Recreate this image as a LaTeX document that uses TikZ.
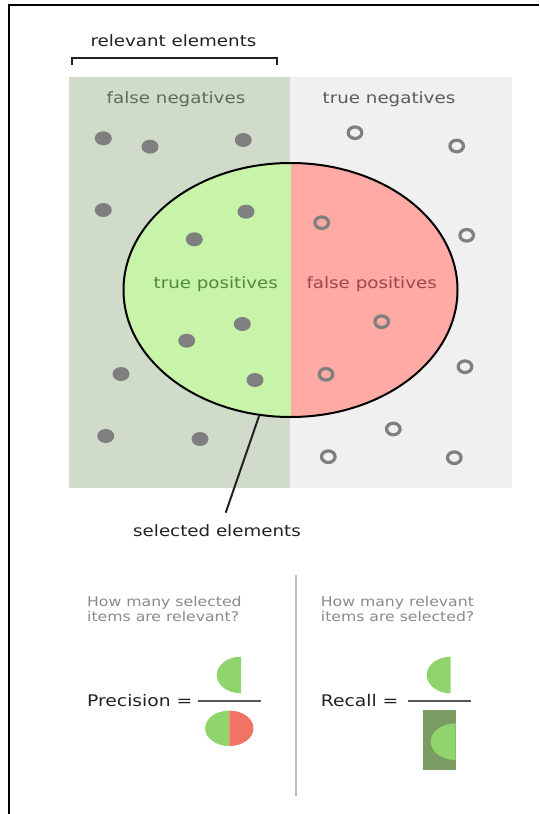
\documentclass[tikz,border=0pt]{standalone}
\usepackage{fontspec}
\setmainfont{DejaVu Sans}[FakeStretch=1.17]
\usetikzlibrary{shapes.geometric}
\definecolor{fnbg}{HTML}{D0DBCA}
\definecolor{tnbg}{HTML}{F0F0F0}
\definecolor{tpfill}{HTML}{C8F4AA}
\definecolor{fpfill}{HTML}{FFAAA5}
\definecolor{dotgray}{HTML}{7F7F7F}
\definecolor{pgreen}{HTML}{8FD46C}
\definecolor{pred}{HTML}{F07466}
\definecolor{rdark}{HTML}{7A9B62}
\definecolor{divgray}{HTML}{BBBBBB}
\definecolor{qgray}{HTML}{8A8A8A}
\definecolor{fntext}{HTML}{5F6A5B}
\definecolor{tntext}{HTML}{5A5A5A}
\definecolor{tptext}{HTML}{4F8A3C}
\definecolor{fptext}{HTML}{A04848}
\definecolor{dark}{HTML}{222222}
\definecolor{fracline}{HTML}{555555}
\begin{document}
\begin{tikzpicture}[x=1pt,y=-1pt,
  big/.style={font=\fontsize{15.6}{18}\selectfont, inner sep=0pt, anchor=base},
  small/.style={font=\fontsize{13.4}{14}\selectfont, text=qgray, inner sep=0pt, anchor=base west},
  formula/.style={font=\fontsize{16}{18}\selectfont, text=dark, inner sep=0pt, anchor=base west},
  fdot/.style={fill=dotgray},
  ring/.style={draw=dotgray, line width=3.2pt},
  thickline/.style={line width=2pt, draw=dark},
  ]
\useasboundingbox (0,0) rectangle (539,814);
\fill[white] (0,0) rectangle (539,814);
\draw[line width=2pt, black] (9,814) -- (9,5) -- (539,5);

% panels
\fill[fnbg] (69,77) rectangle (290,488);
\fill[tnbg] (290,77) rectangle (512,488);

% relevant bracket
\node[big, text=dark] (rel) at (173.5,46.5) {relevant elements};
\draw[thickline] (71.7,65) -- (71.7,58.3) -- (277.3,58.3) -- (277.3,65);

\node[big, text=fntext] (fn) at (176,103) {false negatives};
\node[big, text=tntext] (tn) at (389,103) {true negatives};

% selected ellipse fill
\begin{scope}
\clip (290.5,290) ellipse [x radius=167, y radius=127];
\fill[tpfill] (120,160) rectangle (290.5,420);
\fill[fpfill] (290.5,160) rectangle (460,420);
\end{scope}

% relevant (filled) dots
\foreach \p in {(103.3,138.3),(150,146.7),(243.3,140),(103.3,210),(246,211.7),(194.3,239.3),(242.3,324),(186.7,340.7),(121,374),(255,380),(105.7,436),(200,439)}
  \fill[fdot] \p ellipse [x radius=8.5, y radius=7];

% non-relevant (open) dots
\foreach \p in {(355,132.7),(456.7,146),(321.7,222.7),(466.7,235.3),(381.7,321.7),(326,374.3),(465,366.7),(393.3,429),(328.3,456.7),(454.3,457.7)}
  \draw[ring] \p ellipse [x radius=6.8, y radius=5.8];

\node[ellipse, draw=black, line width=2pt, minimum width=334pt, minimum height=254pt, inner sep=0pt] (sel) at (290.5,290) {};

\node[big, text=tptext] (tp) at (215.8,288) {true positives};
\node[big, text=fptext] (fp) at (371.7,288) {false positives};

\node[big, text=dark] (sellab) at (217,536.7) {selected elements};
\coordinate (selend) at (225.7,512.7);
\draw[thickline] (sel.256) -- (selend);

% bottom section
\draw[divgray, line width=2.5pt] (296,575) -- (296,796);

\node[small] (q1a) at (87,606.7) {How many selected};
\node[small] (q1b) at (87,621) {items are relevant?};
\node[small] (q2a) at (320.7,606.7) {How many relevant};
\node[small] (q2b) at (320.7,621) {items are selected?};

% precision
\node[formula] (prec) at (87,706.7) {Precision =};
\draw[fracline, line width=2pt] (197.7,700.7) -- (261,700.7);
\fill[pgreen] (241,656.7) arc[start angle=-90, end angle=-270, x radius=24.3, y radius=18.3] -- cycle;
\fill[pgreen] (229.3,710.6) arc[start angle=-90, end angle=-270, x radius=24.2, y radius=17.7] -- cycle;
\fill[pred] (229.3,710.6) arc[start angle=-90, end angle=90, x radius=24.2, y radius=17.7] -- cycle;

% recall
\node[formula] (rec) at (320.7,706.7) {Recall =};
\draw[fracline, line width=2pt] (407.7,700.7) -- (471,700.7);
\fill[pgreen] (450.7,656.7) arc[start angle=-90, end angle=-270, x radius=24, y radius=18.3] -- cycle;
\fill[rdark] (422.7,710) rectangle (455.7,770);
\fill[pgreen] (455.7,723.4) arc[start angle=-90, end angle=-270, x radius=25, y radius=18.3] -- cycle;
\end{tikzpicture}
\end{document}
